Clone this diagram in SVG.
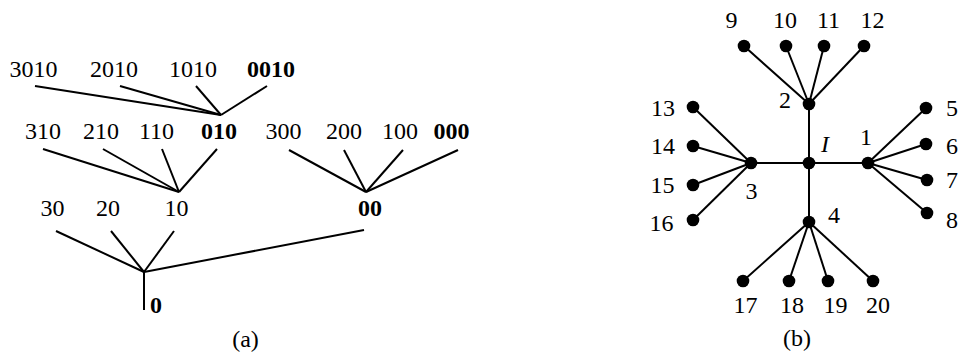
<svg xmlns="http://www.w3.org/2000/svg" width="958" height="356" viewBox="0 0 958 356">
<style>
text{font-family:"Liberation Serif","DejaVu Serif",serif;font-size:24px;fill:#000}
.c{text-anchor:middle}
.b{font-weight:bold}
.e line{stroke:#000;stroke-width:2;stroke-linecap:butt}
.d circle{fill:#000}
</style>
<rect width="958" height="356" fill="#fff"/>
<g id="connectors" class="e">
<line x1="35" y1="86" x2="221" y2="115"/>
<line x1="120" y1="86" x2="221" y2="115"/>
<line x1="196" y1="86" x2="221" y2="115"/>
<line x1="267" y1="86" x2="221" y2="115"/>
<line x1="43" y1="149" x2="179" y2="192"/>
<line x1="103" y1="149" x2="179" y2="192"/>
<line x1="162" y1="149" x2="179" y2="192"/>
<line x1="217" y1="149" x2="179" y2="192"/>
<line x1="289" y1="150" x2="366" y2="192"/>
<line x1="344" y1="150" x2="366" y2="192"/>
<line x1="403" y1="150" x2="366" y2="192"/>
<line x1="458" y1="150" x2="366" y2="192"/>
<line x1="56" y1="231" x2="144" y2="272"/>
<line x1="111" y1="231" x2="144" y2="272"/>
<line x1="174" y1="231" x2="144" y2="272"/>
<line x1="364" y1="230" x2="144" y2="272"/>
<line x1="144" y1="272" x2="144" y2="310"/>
<line x1="809" y1="104" x2="809" y2="222"/>
<line x1="751" y1="163" x2="868" y2="163"/>
<line x1="744" y1="46" x2="809" y2="104"/>
<line x1="786" y1="46" x2="809" y2="104"/>
<line x1="824" y1="46" x2="809" y2="104"/>
<line x1="864" y1="46" x2="809" y2="104"/>
<line x1="693" y1="107" x2="751" y2="163"/>
<line x1="693" y1="146" x2="751" y2="163"/>
<line x1="693" y1="185" x2="751" y2="163"/>
<line x1="693" y1="220" x2="751" y2="163"/>
<line x1="926" y1="108" x2="868" y2="163"/>
<line x1="926" y1="144" x2="868" y2="163"/>
<line x1="927" y1="180" x2="868" y2="163"/>
<line x1="927" y1="213" x2="868" y2="163"/>
<line x1="743" y1="281" x2="809" y2="222"/>
<line x1="789" y1="281" x2="809" y2="222"/>
<line x1="828" y1="281" x2="809" y2="222"/>
<line x1="873" y1="281" x2="809" y2="222"/>
</g>
<g id="tree-a">
<g id="n3010"><text class="c" x="33.5" y="77">3010</text></g>
<g id="n2010"><text class="c" x="114" y="77">2010</text></g>
<g id="n1010"><text class="c" x="193" y="77">1010</text></g>
<g id="n0010"><text class="c b" x="271" y="77">0010</text></g>
<g id="n310"><text class="c" x="43" y="139">310</text></g>
<g id="n210"><text class="c" x="101" y="139">210</text></g>
<g id="n110"><text class="c" x="156.5" y="139">110</text></g>
<g id="n010"><text class="c b" x="219" y="139">010</text></g>
<g id="n300"><text class="c" x="283.5" y="139">300</text></g>
<g id="n200"><text class="c" x="344" y="139">200</text></g>
<g id="n100"><text class="c" x="400" y="139">100</text></g>
<g id="n000"><text class="c b" x="451.5" y="139">000</text></g>
<g id="n30"><text class="c" x="52.5" y="216">30</text></g>
<g id="n20"><text class="c" x="108" y="216">20</text></g>
<g id="n10"><text class="c" x="176.5" y="216">10</text></g>
<g id="n00"><text class="c b" x="370" y="216">00</text></g>
<g id="n0"><text class="b" x="150" y="313">0</text></g>
<text class="c" x="245.5" y="347">(a)</text>
</g>
<g id="tree-b" class="d">
<g id="vI"><circle cx="809" cy="163" r="6.3"/><text x="821" y="152" font-style="italic">I</text></g>
<g id="v1"><circle cx="868" cy="163" r="6.3"/><text class="c" x="866" y="145">1</text></g>
<g id="v2"><circle cx="809" cy="104" r="6.3"/><text class="c" x="785" y="108">2</text></g>
<g id="v3"><circle cx="751" cy="163" r="6.3"/><text class="c" x="751.5" y="199">3</text></g>
<g id="v4"><circle cx="809" cy="222" r="6.3"/><text class="c" x="834" y="223">4</text></g>
<g id="v5"><circle cx="926" cy="108" r="6.3"/><text class="c" x="952" y="116">5</text></g>
<g id="v6"><circle cx="926" cy="144" r="6.3"/><text class="c" x="952" y="154">6</text></g>
<g id="v7"><circle cx="927" cy="180" r="6.3"/><text class="c" x="952" y="188">7</text></g>
<g id="v8"><circle cx="927" cy="213" r="6.3"/><text class="c" x="952" y="228">8</text></g>
<g id="v9"><circle cx="744" cy="46" r="6.3"/><text class="c" x="731.5" y="28">9</text></g>
<g id="v10"><circle cx="786" cy="46" r="6.3"/><text class="c" x="785" y="28">10</text></g>
<g id="v11"><circle cx="824" cy="46" r="6.3"/><text class="c" x="828.5" y="28">11</text></g>
<g id="v12"><circle cx="864" cy="46" r="6.3"/><text class="c" x="872.5" y="28">12</text></g>
<g id="v13"><circle cx="693" cy="107" r="6.3"/><text class="c" x="663" y="116">13</text></g>
<g id="v14"><circle cx="693" cy="146" r="6.3"/><text class="c" x="663" y="154">14</text></g>
<g id="v15"><circle cx="693" cy="185" r="6.3"/><text class="c" x="662.5" y="193">15</text></g>
<g id="v16"><circle cx="693" cy="220" r="6.3"/><text class="c" x="661.5" y="231">16</text></g>
<g id="v17"><circle cx="743" cy="281" r="6.3"/><text class="c" x="745.5" y="313">17</text></g>
<g id="v18"><circle cx="789" cy="281" r="6.3"/><text class="c" x="792" y="313">18</text></g>
<g id="v19"><circle cx="828" cy="281" r="6.3"/><text class="c" x="835.5" y="313">19</text></g>
<g id="v20"><circle cx="873" cy="281" r="6.3"/><text class="c" x="878" y="313">20</text></g>
<text class="c" x="797" y="346">(b)</text>
</g>
</svg>
